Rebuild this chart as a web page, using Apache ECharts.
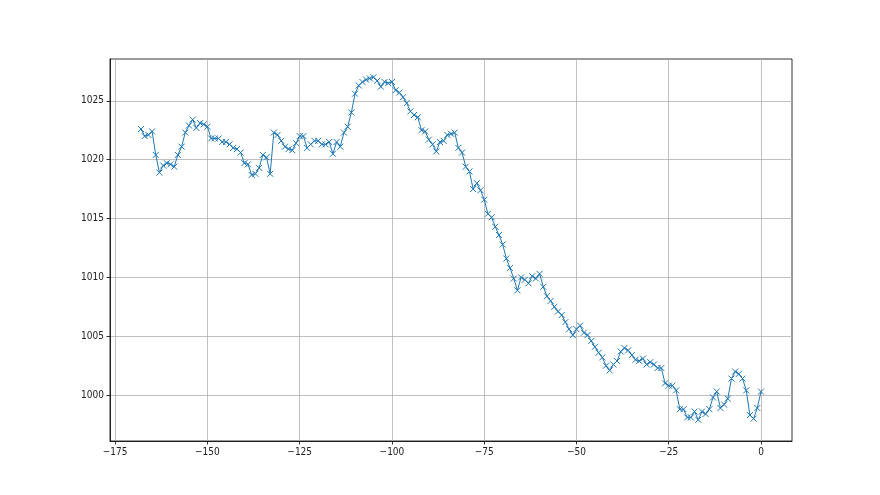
<!DOCTYPE html>
<html>
<head>
<meta charset="utf-8">
<script src="https://cdn.jsdelivr.net/npm/echarts@6/dist/echarts.min.js"></script>
<style>
html,body{margin:0;padding:0;background:#fff;}
#chart{width:880px;height:495px;}
</style>
</head>
<body>
<div id="chart"></div>
<script>
var hours = [-168,-167,-166,-165,-164,-163,-162,-161,-160,-159,-158,-157,-156,-155,-154,-153,-152,-151,-150,-149,-148,-147,-146,-145,-144,-143,-142,-141,-140,-139,-138,-137,-136,-135,-134,-133,-132,-131,-130,-129,-128,-127,-126,-125,-124,-123,-122,-121,-120,-119,-118,-117,-116,-115,-114,-113,-112,-111,-110,-109,-108,-107,-106,-105,-104,-103,-102,-101,-100,-99,-98,-97,-96,-95,-94,-93,-92,-91,-90,-89,-88,-87,-86,-85,-84,-83,-82,-81,-80,-79,-78,-77,-76,-75,-74,-73,-72,-71,-70,-69,-68,-67,-66,-65,-64,-63,-62,-61,-60,-59,-58,-57,-56,-55,-54,-53,-52,-51,-50,-49,-48,-47,-46,-45,-44,-43,-42,-41,-40,-39,-38,-37,-36,-35,-34,-33,-32,-31,-30,-29,-28,-27,-26,-25,-24,-23,-22,-21,-20,-19,-18,-17,-16,-15,-14,-13,-12,-11,-10,-9,-8,-7,-6,-5,-4,-3,-2,-1,0];
var pressure = [1022.6,1022.0,1022.1,1022.4,1020.4,1018.9,1019.5,1019.7,1019.6,1019.4,1020.4,1021.1,1022.3,1022.9,1023.4,1022.7,1023.1,1023.0,1022.8,1021.8,1021.8,1021.8,1021.5,1021.5,1021.3,1021.0,1020.9,1020.6,1019.7,1019.6,1018.7,1018.8,1019.3,1020.4,1020.2,1018.8,1022.3,1022.1,1021.6,1021.1,1020.9,1020.8,1021.4,1022.0,1022.0,1021.0,1021.3,1021.6,1021.6,1021.3,1021.3,1021.5,1020.5,1021.5,1021.1,1022.3,1022.8,1024.0,1025.6,1026.3,1026.6,1026.8,1026.9,1027.0,1026.7,1026.2,1026.6,1026.5,1026.6,1025.9,1025.7,1025.3,1024.8,1024.1,1023.8,1023.6,1022.5,1022.4,1021.7,1021.3,1020.7,1021.5,1021.6,1022.1,1022.2,1022.3,1021.0,1020.6,1019.4,1019.0,1017.5,1018.0,1017.4,1016.6,1015.4,1015.1,1014.3,1013.6,1012.8,1011.6,1010.8,1009.9,1008.9,1010.0,1009.8,1009.5,1010.1,1009.9,1010.3,1009.2,1008.4,1008.0,1007.5,1007.1,1006.8,1006.2,1005.6,1005.1,1005.6,1005.9,1005.3,1005.1,1004.6,1004.1,1003.6,1003.2,1002.5,1002.1,1002.6,1002.9,1003.7,1004.0,1003.8,1003.4,1003.0,1002.9,1003.1,1002.6,1002.8,1002.6,1002.3,1002.3,1001.0,1000.8,1000.8,1000.4,998.8,998.8,998.1,998.1,998.6,997.9,998.6,998.4,998.8,999.8,1000.3,998.9,999.2,999.7,1001.4,1002.0,1001.8,1001.4,1000.4,998.3,998.0,998.9,1000.3];
var xTicks = [-175,-150,-125,-100,-75,-50,-25,0];
var yTicks = [1000,1005,1010,1015,1020,1025];

var points = hours.map(function(h,i){return [h, pressure[i]];});
var chart = echarts.init(document.getElementById('chart'), null, {renderer:'canvas'});
var labelFont = {fontFamily:'"Liberation Sans Narrow","DejaVu Sans Condensed",sans-serif', fontSize:10, color:'#222'};
chart.setOption({
  animation:false,
  backgroundColor:'#fff',
  grid:{left:110,right:88,top:59,bottom:54,show:true,borderColor:'#000',borderWidth:0.8,backgroundColor:'transparent',containLabel:false},
  xAxis:{type:'value',min:-176.4,max:8.4,
    axisLine:{show:true,onZero:false,lineStyle:{color:'#000',width:0.8}},
    axisTick:{show:true,inside:false,length:3.5,customValues:xTicks,lineStyle:{color:'#000',width:0.8}},
    axisLabel:Object.assign({customValues:xTicks,margin:6,formatter:function(v){return v<0?'\u2212'+(-v):String(v);}},labelFont),
    splitLine:{show:true,lineStyle:{color:'#b0b0b0',width:0.8}}
  },
  yAxis:{type:'value',min:996.1,max:1028.55,
    axisLine:{show:true,onZero:false,lineStyle:{color:'#000',width:0.8}},
    axisTick:{show:true,inside:false,length:3.5,customValues:yTicks,lineStyle:{color:'#000',width:0.8}},
    axisLabel:Object.assign({customValues:yTicks,margin:6,formatter:function(v){return String(v);}},labelFont),
    splitLine:{show:true,lineStyle:{color:'#b0b0b0',width:0.8}}
  },
  series:[{type:'line',data:points,
    lineStyle:{color:'#1f77b4',width:1},
    symbol:'path://M0,0L10,10M10,0L0,10',symbolSize:6,showAllSymbol:true,
    itemStyle:{color:'#1f77b4',borderColor:'#1f77b4',borderWidth:1},
    emphasis:{disabled:true}
  }]
});
</script>
</body>
</html>
